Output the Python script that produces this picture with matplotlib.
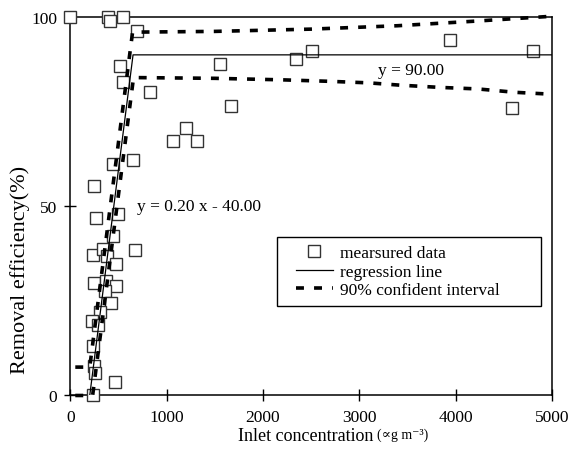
import matplotlib
matplotlib.use("Agg")
from matplotlib import pyplot as plt
from matplotlib.lines import Line2D
from matplotlib.legend_handler import HandlerLine2D

plt.rcParams['font.family'] = ['Liberation Serif', 'DejaVu Serif']

meas_x = [0, 390, 410, 545, 690, 514, 545, 826, 1553, 1670, 1064, 1199, 1314,
          2342, 2508, 3941, 4583, 4803,
          443, 651, 244, 270, 490, 440, 670, 234, 337, 379, 472, 244, 369, 472,
          358, 421, 306, 228, 285, 239, 245, 254, 462, 234]
meas_y = [100, 100, 99, 100, 96.3, 87, 82.8, 80.2, 87.6, 76.5, 67.3, 70.7, 67.3,
          89, 91, 94, 76, 91,
          61.2, 62.2, 55.3, 46.9, 47.9, 42.1, 38.5, 37.1, 38.7, 36.9, 34.8, 29.7, 30.2, 28.9,
          27.6, 24.4, 22, 19.6, 18.6, 13.2, 7.8, 6.0, 3.6, 0]

# regression line
reg_x = [200, 650, 5000]
reg_y = [0, 90, 90]

# 90% confidence limits
up_x = [50, 200, 645, 1500, 2500, 3400, 4200, 5000]
up_y = [7.5, 7.5, 96, 96.2, 96.8, 97.7, 98.9, 100.2]
lo_x = [50, 230, 655, 1500, 2200, 2700, 3100, 3420, 3840, 4230, 4620, 5000]
lo_y = [0, 0, 84, 83.8, 83.4, 83.0, 82.6, 82.0, 81.4, 81.0, 80.1, 79.6]

fig = plt.figure(figsize=(5.73, 4.56), dpi=100)
ax = fig.add_axes([0.123, 0.1305, 0.840, 0.830])

ax.plot(meas_x, meas_y, 's', ms=8.5, mfc='white', mec='#333333', mew=1.0,
        clip_on=False, zorder=3, label='mearsured data')
ax.plot(reg_x, reg_y, color='black', lw=0.9, zorder=4, label='regression line')
ax.plot(up_x, up_y, color='black', lw=2.6, dashes=(2.2, 2.8), zorder=4,
        clip_on=False, label='90% confident interval')
ax.plot(lo_x, lo_y, color='black', lw=2.6, dashes=(2.2, 2.8), zorder=4, clip_on=False)

ax.text(690, 50, 'y = 0.20 x - 40.00', fontsize=12.5, va='center')
ax.text(3190, 86, 'y = 90.00', fontsize=12.5, va='center')

ax.set_xlim(0, 5000)
ax.set_ylim(0, 100)
ax.set_xticks(range(0, 5001, 1000))
ax.set_yticks([0, 50, 100])
ax.tick_params(direction='inout', length=9, width=1, labelsize=12.5, pad=5)
for s in ax.spines.values():
    s.set_linewidth(1.1)

# axis titles
fig.text(0.035, 0.408, 'Removal efficiency(%)', rotation=90, fontsize=16,
         ha='center', va='center')
ax.text(0.630, -0.107, 'Inlet concentration', transform=ax.transAxes,
        fontsize=13, ha='right', va='center')
ax.text(0.636, -0.102, '(∝g m⁻³)', transform=ax.transAxes,
        fontsize=10, ha='left', va='center')

leg = ax.legend(loc='upper left', bbox_to_anchor=(0.429, 0.242, 0.548, 0.177),
                mode='expand', fontsize=12.5, frameon=True, fancybox=False,
                framealpha=1, edgecolor='black', borderpad=0.45, labelspacing=0.15,
                handlelength=2.76, handletextpad=0.4, borderaxespad=0,
                handler_map={Line2D: HandlerLine2D(xpad=0.63)})
leg.get_frame().set_linewidth(1.0)

plt.savefig('out.png')
